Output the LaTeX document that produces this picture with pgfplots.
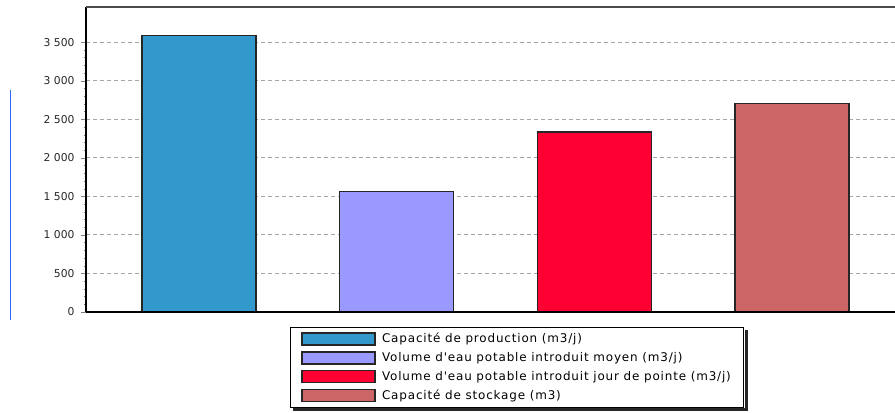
\documentclass[border=0pt]{standalone}
\usepackage{pgfplots}
\pgfplotsset{compat=1.18}
\usepackage{fontspec}
\setmainfont{DejaVu Sans}
\newfontfamily\legfont[LetterSpace=7]{DejaVu Sans}
\definecolor{c1}{RGB}{51,153,204}
\definecolor{c2}{RGB}{153,153,255}
\definecolor{c3}{RGB}{255,0,51}
\definecolor{c4}{RGB}{204,102,102}
\definecolor{side}{RGB}{51,102,255}
\begin{document}
\begin{tikzpicture}[x=1bp,y=1bp]
\begin{axis}[
  name=ax, anchor=south west,
  scale only axis, width=809bp, height=305bp,
  xmin=-0.572, xmax=3.521, ymin=0, ymax=3955,
  axis x line*=box, axis y line*=left,
  x axis line style={-},
  y axis line style={-, line width=1.6bp, black},
  xtick=\empty,
  ytick={0,500,...,3500},
  minor y tick num=4,
  tick align=outside,
  major tick length=5bp, minor tick length=2bp,
  minor tick style={gray},
  ymajorgrids,
  major grid style={gray!70, line width=0.8bp, dash pattern=on 4bp off 3bp},
  /pgf/number format/assume math mode=true,
  /pgf/number format/1000 sep={\ },
  yticklabel style={font=\fontsize{10.8}{12}\selectfont, text=black!85, xshift=-3bp},
  ybar, bar width=114bp, bar shift=0pt,
  legend style={at={(rel axis cs:0.2522,-0.049)}, anchor=north west,
    name=leg,
    draw=black, line width=0.8bp, fill=white,
    font=\legfont\fontsize{12}{14}\selectfont, inner xsep=11bp, inner ysep=4bp,
    row sep=4.2bp},
  legend cell align=left,
  legend image code/.code={\draw[#1] (0bp,-6bp) rectangle (73bp,6bp); \path[draw=none, fill=none] (0bp,0bp) -- (78bp,0bp);},
]
\addplot[fill=c1, draw=black!85, line width=1.3bp] coordinates {(0,3585)};
\addplot[fill=c2, draw=black!85, line width=1.3bp] coordinates {(1,1560)};
\addplot[fill=c3, draw=black!85, line width=1.3bp] coordinates {(2,2335)};
\addplot[fill=c4, draw=black!85, line width=1.3bp] coordinates {(3,2700)};
\legend{Capacité de production (m3/j),
  Volume d'eau potable introduit moyen (m3/j),
  Volume d'eau potable introduit jour de pointe (m3/j),
  Capacité de stockage (m3)}
\draw[black, line width=2bp] (rel axis cs:0,0) -- (rel axis cs:1,0);
\draw[black!70, line width=1.2bp] (rel axis cs:0,1) -- (rel axis cs:1,1);
\end{axis}
\fill[black!85] ([shift={(0.4,-3)}]leg.north east) rectangle ([shift={(3.4,-3.4)}]leg.south east);
\fill[black!85] ([shift={(3,-0.4)}]leg.south west) rectangle ([shift={(3.4,-3.4)}]leg.south east);
\draw[side, line width=1.6bp] ([shift={(-75.5,222)}]ax.south west) -- ++(0,-230);
\pgfresetboundingbox
\path[use as bounding box] ([shift={(-86,-100)}]ax.south west) rectangle ++(895,412);
\end{tikzpicture}
\end{document}
